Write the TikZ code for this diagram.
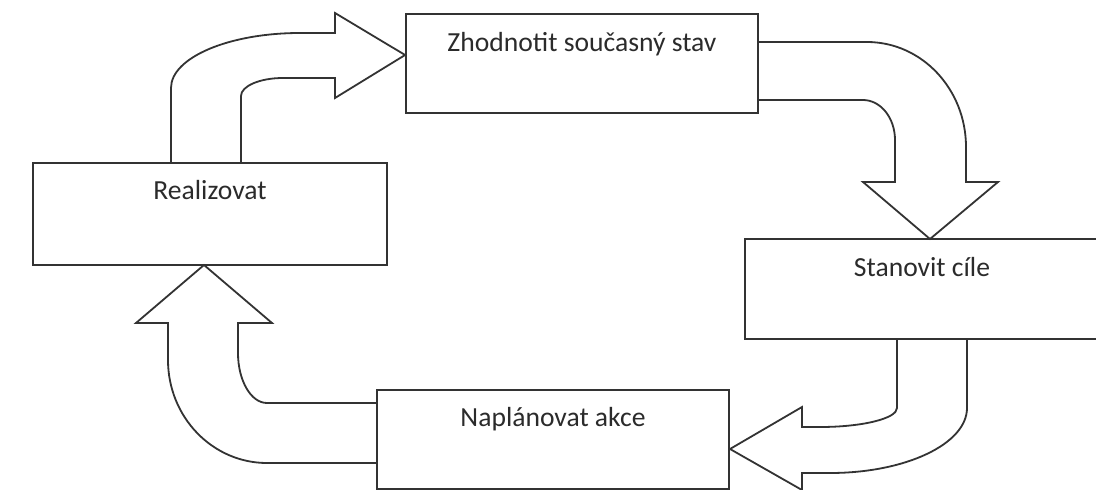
\documentclass[tikz,border=0pt]{standalone}
\usepackage{fontspec}
\setmainfont{Carlito}
\definecolor{ink}{HTML}{333333}
\definecolor{txt}{HTML}{2B2B2B}
\tikzset{
  stage/.style={draw=ink, line width=1.8pt, fill=white, rectangle, inner sep=0pt},
  caption/.style={anchor=base, text=txt, inner sep=0pt, font=\fontsize{27.6}{33}\selectfont},
  blockarrow/.style={draw=ink, line width=1.8pt, line join=miter}
}
\begin{document}
\begin{tikzpicture}[x=1pt,y=-1pt]
\useasboundingbox (0,0) rectangle (1096,490);
\clip (0,0) rectangle (1096,490);
\fill[white] (0,0) rectangle (1096,490);

% four stages of the cycle
\node[stage, minimum width=352pt, minimum height=99pt]  (eval) at (582,63.5) {};
\node[stage, minimum width=354pt, minimum height=102pt] (real) at (210,214) {};
\node[stage, minimum width=354pt, minimum height=100pt] (goal) at (922,289) {};
\node[stage, minimum width=352pt, minimum height=99pt]  (plan) at (553,439.5) {};

\node[caption] (evalt) at ([yshift=-38.5pt]eval.north) {Zhodnotit současný stav};
\node[caption] (realt) at ([yshift=-37pt]real.north) {Realizovat};
\node[caption] (goalt) at ([yshift=-38pt]goal.north) {Stanovit cíle};
\node[caption] (plant) at ([yshift=-37pt]plan.north) {Naplánovat akce};

% anchor points where the block arrows meet the boxes
\coordinate (a1o) at (171,163);
\coordinate (a1i) at (241,163);
\coordinate (a1t) at (eval.west |- 0,55);
\coordinate (a2o) at (757,42);
\coordinate (a2i) at (757,100);
\coordinate (a2t) at (930,239);
\coordinate (a3o) at (967,339);
\coordinate (a3i) at (897,339);
\coordinate (a3t) at (730,449);
\coordinate (a4i) at (377,403);
\coordinate (a4o) at (377,463);
\coordinate (a4t) at (204,265);

% Realizovat -> Zhodnotit soucasny stav
\draw[blockarrow] (a1o) -- (171,88)
  .. controls (171,57.6) and (228.8,33) .. (300,33)
  -- (335,33) -- (335,13) -- (a1t) -- (335,98) -- (335,78) -- (283,78)
  .. controls (259.8,78) and (241,86.1) .. (241,96) -- (a1i);

% Zhodnotit soucasny stav -> Stanovit cile
\draw[blockarrow] (a2o) -- (867,42)
  .. controls (921.7,42) and (966,89) .. (966,147)
  -- (966,182) -- (998,182) -- (a2t) -- (863,182) -- (895,182) -- (895,140)
  .. controls (895,117.9) and (880.7,100) .. (863,100) -- (a2i);

% Stanovit cile -> Naplanovat akce
\draw[blockarrow] (a3o) -- (967,408)
  .. controls (967,443.9) and (905.7,473) .. (830,473)
  -- (802,473) -- (802,490) -- (a3t) -- (802,407) -- (802,427) -- (820,427)
  .. controls (862.5,427) and (897,418.5) .. (897,408) -- (a3i);

% Naplanovat akce -> Realizovat
\draw[blockarrow] (a4i) -- (267,403)
  .. controls (251,403) and (238,380.6) .. (238,353)
  -- (238,323) -- (272,323) -- (a4t) -- (136,323) -- (168,323) -- (168,360)
  .. controls (168,416.9) and (212.3,463) .. (267,463) -- (a4o);
\end{tikzpicture}
\end{document}
